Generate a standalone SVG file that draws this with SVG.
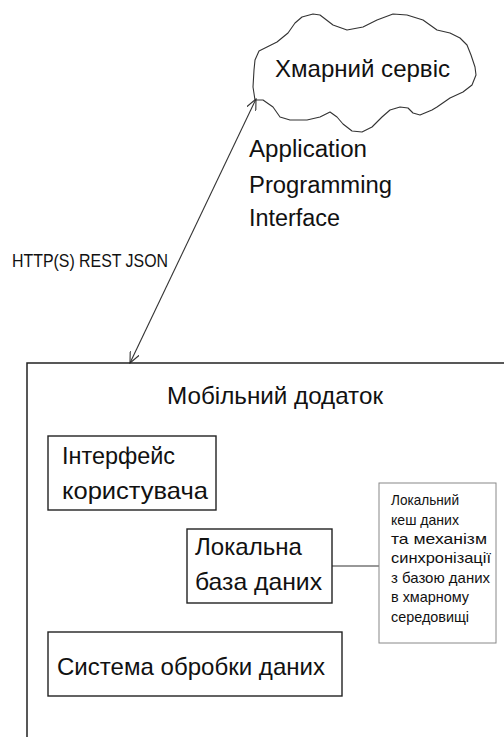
<svg xmlns="http://www.w3.org/2000/svg" width="504" height="737" viewBox="0 0 504 737">
<style>
text{font-family:"Liberation Sans",Arial,sans-serif;fill:#111}
.box{fill:none;stroke:#222;stroke-width:1.4}
.note{fill:#fff;stroke:#888;stroke-width:1}
.big{font-size:24px}
.api{font-size:23px}
.sm{font-size:15px}
.ln{fill:none;stroke:#333;stroke-width:1.1}
</style>
<defs>
<marker id="ah" viewBox="0 0 12 10" refX="11" refY="5" markerWidth="12" markerHeight="10" markerUnits="userSpaceOnUse" orient="auto-start-reverse">
<path d="M0,0 L11,5 L0,10" fill="none" stroke="#333" stroke-width="1.1"/>
</marker>
</defs>
<rect width="504" height="737" fill="#fff"/>
<g id="cloud">
<polyline class="ln" stroke-linejoin="round" points="255,100 253,87 254,70 255,60 259,51 267,47 277,42 288,33 295,23 302,17 313,14 320,15 333,25 347,30 363,27 377,20 393,14 407,15 423,20 437,30 450,33 460,38 467,45 471,55 475,67 476,75 472,85 463,92 450,98 437,107 432,110 420,115 413,113 408,108 400,107 390,110 382,117 372,127 362,132 352,131 343,124 337,117 330,112 320,117 307,120 290,120 280,117 273,107 263,100 255,100"/>
<text class="big" x="275" y="77" textLength="175" lengthAdjust="spacingAndGlyphs">Хмарний сервіс</text>
</g>
<g id="api">
<text class="api" x="249" y="157" textLength="118" lengthAdjust="spacingAndGlyphs">Application</text>
<text class="api" x="249" y="193" textLength="143" lengthAdjust="spacingAndGlyphs">Programming</text>
<text class="api" x="249" y="226" textLength="91" lengthAdjust="spacingAndGlyphs">Interface</text>
</g>
<g id="connectors">
<line class="ln" x1="130" y1="363" x2="256" y2="99" marker-start="url(#ah)" marker-end="url(#ah)"/>
<line class="ln" x1="332" y1="566" x2="379" y2="566"/>
<text style="font-size:19px" x="12" y="267" textLength="156" lengthAdjust="spacingAndGlyphs">HTTP(S) REST JSON</text>
</g>
<g id="mobile">
<path d="M27,737 L27,363 L504,363" fill="none" stroke="#222" stroke-width="1.5"/>
<text class="big" x="167" y="404" textLength="216" lengthAdjust="spacingAndGlyphs">Мобільний додаток</text>
</g>
<g id="ui">
<rect class="box" x="48" y="436" width="168" height="74"/>
<text class="big" x="62" y="464" textLength="113" lengthAdjust="spacingAndGlyphs">Інтерфейс</text>
<text class="big" x="62" y="499" textLength="146" lengthAdjust="spacingAndGlyphs">користувача</text>
</g>
<g id="localdb">
<rect class="box" x="187" y="529" width="145" height="74"/>
<text class="big" x="195" y="555" textLength="107" lengthAdjust="spacingAndGlyphs">Локальна</text>
<text class="big" x="195" y="590" textLength="127" lengthAdjust="spacingAndGlyphs">база даних</text>
</g>
<g id="note">
<rect class="note" x="379" y="483" width="117" height="160"/>
<text class="sm" x="391" y="505" textLength="68" lengthAdjust="spacingAndGlyphs">Локальний</text>
<text class="sm" x="391" y="525" textLength="68" lengthAdjust="spacingAndGlyphs">кеш даних</text>
<text class="sm" x="391" y="544" textLength="96" lengthAdjust="spacingAndGlyphs">та механізм</text>
<text class="sm" x="391" y="563" textLength="100" lengthAdjust="spacingAndGlyphs">синхронізації</text>
<text class="sm" x="391" y="583" textLength="99" lengthAdjust="spacingAndGlyphs">з базою даних</text>
<text class="sm" x="391" y="602" textLength="78" lengthAdjust="spacingAndGlyphs">в хмарному</text>
<text class="sm" x="391" y="622" textLength="78" lengthAdjust="spacingAndGlyphs">середовищі</text>
</g>
<g id="processing">
<rect class="box" x="48" y="632" width="294" height="64"/>
<text class="big" x="57" y="675" textLength="268" lengthAdjust="spacingAndGlyphs">Система обробки даних</text>
</g>
</svg>
